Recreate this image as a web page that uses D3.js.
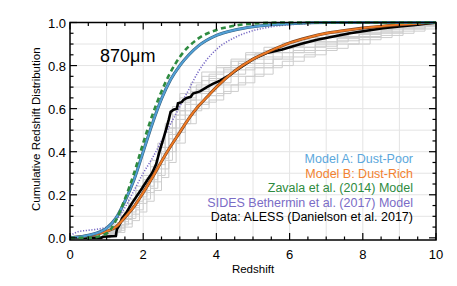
<!DOCTYPE html>
<html>
<head>
<meta charset="utf-8">
<script src="https://cdn.jsdelivr.net/npm/d3@7"></script>
<style>
  body { margin: 0; background: #fff; }
  svg { font-family: "Liberation Sans", Arial, sans-serif; }
</style>
</head>
<body>
<div id="chart"></div>
<script>
// model curves: redshift grid + cumulative fraction
const modelAZ = [0, 0.5, 1.0, 1.25, 1.5, 1.75, 2.0, 2.25, 2.5, 2.75, 3.0, 3.25, 3.5, 4.0, 4.5, 5.0, 6.0, 7.0, 10]
const modelAC = [0, 0.012, 0.045, 0.09, 0.17, 0.27, 0.4, 0.53, 0.645, 0.735, 0.8, 0.85, 0.89, 0.94, 0.965, 0.98, 0.994, 1.0, 1.0]

const modelBZ = [0, 0.5, 1.0, 1.25, 1.5, 1.75, 2.0, 2.25, 2.5, 2.75, 3.0, 3.25, 3.5, 3.75, 4.0, 4.5, 5.0, 5.5, 6.0, 6.5, 7.0, 7.5, 8.0, 9.0, 10]
const modelBC = [0, 0.01, 0.03, 0.05, 0.095, 0.145, 0.21, 0.28, 0.355, 0.425, 0.49, 0.555, 0.61, 0.655, 0.7, 0.775, 0.83, 0.87, 0.905, 0.93, 0.95, 0.963, 0.974, 0.99, 1.0]

const zavalaZ = [0, 0.5, 1.0, 1.25, 1.5, 1.75, 2.0, 2.25, 2.5, 2.75, 3.0, 3.5, 4.0, 4.5, 5.0, 6.0, 10]
const zavalaC = [0, 0.0, 0.02, 0.08, 0.18, 0.3, 0.44, 0.57, 0.68, 0.77, 0.84, 0.925, 0.965, 0.985, 0.995, 1.0, 1.0]

const sidesZ = [0, 0.25, 0.5, 1.0, 1.25, 1.5, 1.75, 2.0, 2.25, 2.5, 2.75, 3.0, 3.25, 3.5, 3.75, 4.0, 4.5, 5.0, 5.5, 6.0, 7.0, 8.0, 10]
const sidesC = [0.01, 0.03, 0.035, 0.05, 0.08, 0.14, 0.22, 0.3, 0.37, 0.45, 0.53, 0.61, 0.69, 0.77, 0.83, 0.875, 0.93, 0.962, 0.98, 0.99, 0.998, 1.0, 1.0]

// ALESS data
const alessZ = [0, 0.85, 0.9, 1.25, 1.28, 1.35, 1.42, 1.55, 1.69, 1.83, 1.97, 2.1, 2.24, 2.35, 2.46, 2.55, 2.62, 2.7, 2.75, 2.83, 2.92, 2.95, 3.05, 3.1, 3.19, 3.3, 3.36, 3.55, 3.74, 3.9, 4.1, 4.37, 4.6, 5.0, 5.4, 5.8, 6.3, 6.75, 7.2, 7.65, 8.1, 8.55, 9.0, 9.5, 10]
const alessC = [0, 0, 0.005, 0.008, 0.04, 0.06, 0.09, 0.12, 0.16, 0.195, 0.23, 0.265, 0.3, 0.34, 0.41, 0.46, 0.5, 0.55, 0.585, 0.595, 0.6, 0.625, 0.63, 0.64, 0.65, 0.655, 0.67, 0.68, 0.7, 0.715, 0.73, 0.757, 0.785, 0.83, 0.86, 0.875, 0.9, 0.92, 0.935, 0.95, 0.962, 0.973, 0.982, 0.99, 1.0]

// grey realisations, two redshift grids
const greyZA = [0, 0.5, 1.0, 1.2, 1.4, 1.6, 1.8, 2.0, 2.2, 2.4, 2.6, 2.8, 3.0, 3.3, 3.6, 4.0, 4.4, 4.8, 5.3, 5.8, 6.4, 7.0, 7.6, 8.2, 8.8, 9.4, 10]
const greyZB = [0, 0.6, 1.1, 1.3, 1.5, 1.7, 1.9, 2.1, 2.3, 2.5, 2.7, 2.9, 3.15, 3.45, 3.8, 4.2, 4.6, 5.05, 5.55, 6.1, 6.7, 7.3, 7.9, 8.5, 9.1, 9.7, 10]
const greyA1 = [0, 0.005, 0.03, 0.07, 0.12, 0.18, 0.24, 0.29, 0.36, 0.44, 0.53, 0.61, 0.67, 0.72, 0.77, 0.8, 0.83, 0.86, 0.885, 0.905, 0.93, 0.95, 0.965, 0.975, 0.985, 0.995, 1]
const greyA2 = [0, 0, 0.01, 0.03, 0.06, 0.09, 0.13, 0.18, 0.23, 0.29, 0.36, 0.45, 0.53, 0.59, 0.63, 0.67, 0.71, 0.75, 0.79, 0.82, 0.85, 0.88, 0.9, 0.93, 0.95, 0.97, 1]
const greyA3 = [0, 0.003, 0.02, 0.05, 0.09, 0.15, 0.2, 0.25, 0.31, 0.4, 0.49, 0.57, 0.63, 0.68, 0.73, 0.77, 0.8, 0.83, 0.86, 0.89, 0.91, 0.93, 0.95, 0.965, 0.98, 0.99, 1]
const greyA4 = [0, 0, 0.015, 0.04, 0.075, 0.12, 0.17, 0.22, 0.27, 0.34, 0.42, 0.51, 0.59, 0.64, 0.68, 0.72, 0.76, 0.79, 0.83, 0.86, 0.885, 0.91, 0.93, 0.95, 0.97, 0.985, 1]
const greyA5 = [0, 0.002, 0.025, 0.06, 0.1, 0.16, 0.22, 0.27, 0.33, 0.42, 0.51, 0.6, 0.65, 0.7, 0.75, 0.79, 0.82, 0.85, 0.87, 0.895, 0.92, 0.94, 0.955, 0.97, 0.98, 0.99, 1]
const greyB1 = [0, 0.004, 0.025, 0.06, 0.1, 0.16, 0.22, 0.28, 0.34, 0.42, 0.51, 0.59, 0.65, 0.71, 0.76, 0.79, 0.82, 0.855, 0.88, 0.91, 0.93, 0.95, 0.97, 0.98, 0.99, 0.997, 1]
const greyB2 = [0, 0, 0.008, 0.025, 0.05, 0.08, 0.12, 0.17, 0.22, 0.28, 0.35, 0.44, 0.53, 0.6, 0.64, 0.68, 0.72, 0.76, 0.8, 0.84, 0.87, 0.9, 0.92, 0.94, 0.96, 0.98, 1]
const greyB3 = [0, 0.002, 0.018, 0.045, 0.085, 0.14, 0.19, 0.24, 0.3, 0.37, 0.46, 0.55, 0.62, 0.67, 0.71, 0.75, 0.78, 0.81, 0.84, 0.87, 0.9, 0.925, 0.945, 0.96, 0.975, 0.99, 1]
const greyB4 = [0, 0.001, 0.012, 0.035, 0.065, 0.11, 0.16, 0.21, 0.26, 0.32, 0.4, 0.49, 0.57, 0.62, 0.66, 0.71, 0.75, 0.79, 0.83, 0.86, 0.89, 0.915, 0.935, 0.955, 0.97, 0.985, 1]
const greyB5 = [0, 0.003, 0.02, 0.05, 0.09, 0.15, 0.21, 0.26, 0.32, 0.39, 0.48, 0.57, 0.64, 0.69, 0.74, 0.78, 0.81, 0.84, 0.86, 0.885, 0.91, 0.935, 0.955, 0.97, 0.98, 0.992, 1]

const xTicks = [0, 2, 4, 6, 8, 10]
const yTicks = [0, 0.2, 0.4, 0.6, 0.8, 1.0]

const legendItems = [
  { label: "Model A: Dust-Poor", color: "#5ba7dc" },
  { label: "Model B: Dust-Rich", color: "#f28231" },
  { label: "Zavala et al. (2014) Model", color: "#2e8b40" },
  { label: "SIDES Bethermin et al. (2017) Model", color: "#7a6cc6" },
  { label: "Data: ALESS (Danielson et al. 2017)", color: "#000" }
]

const MARGIN = { LEFT: 70, RIGHT: 21, TOP: 22.5, BOTTOM: 46 }
const W = 457 - MARGIN.LEFT - MARGIN.RIGHT
const H = 286 - MARGIN.TOP - MARGIN.BOTTOM

const svg = d3.select("#chart").append("svg")
  .attr("width", 457)
  .attr("height", 286)

const g = svg.append("g")
  .attr("transform", `translate(${MARGIN.LEFT}, ${MARGIN.TOP})`)

const x = d3.scaleLinear().domain([0, 10]).range([0, W])
const y = d3.scaleLinear().domain([-0.01, 1]).range([H, 0])

// grid
g.append("g").selectAll("line")
  .data(d3.range(1, 10))
  .enter().append("line")
    .attr("x1", d => x(d)).attr("x2", d => x(d))
    .attr("y1", 0).attr("y2", H)
    .attr("stroke", "#e4e4e4").attr("stroke-width", 1)

g.append("g").selectAll("line")
  .data(d3.range(1, 10).map(d => d / 10))
  .enter().append("line")
    .attr("x1", 0).attr("x2", W)
    .attr("y1", d => y(d)).attr("y2", d => y(d))
    .attr("stroke", "#e4e4e4").attr("stroke-width", 1)

const toPts = (zs, cs) => zs.map((z, i) => [z, cs[i]])

const stepLine = d3.line()
  .x(d => x(d[0]))
  .y(d => y(d[1]))
  .curve(d3.curveStepAfter)

const plainLine = d3.line()
  .x(d => x(d[0]))
  .y(d => y(d[1]))

const smoothLine = d3.line()
  .x(d => x(d[0]))
  .y(d => y(d[1]))
  .curve(d3.curveMonotoneX)

// grey realisations
const greys = [
  toPts(greyZA, greyA1), toPts(greyZA, greyA2), toPts(greyZA, greyA3), toPts(greyZA, greyA4), toPts(greyZA, greyA5),
  toPts(greyZB, greyB1), toPts(greyZB, greyB2), toPts(greyZB, greyB3), toPts(greyZB, greyB4), toPts(greyZB, greyB5)
]
greys.forEach(pts => {
  g.append("path")
    .attr("d", stepLine(pts))
    .attr("fill", "none")
    .attr("stroke", "#cdcdcd")
    .attr("stroke-width", 1)
})

// purple dotted
g.append("path")
  .attr("d", smoothLine(toPts(sidesZ, sidesC)))
  .attr("fill", "none")
  .attr("stroke", "#7a6cc6")
  .attr("stroke-width", 1.6)
  .attr("stroke-dasharray", "1.2,1.6")

// data
g.append("path")
  .attr("d", plainLine(toPts(alessZ, alessC)))
  .attr("fill", "none")
  .attr("stroke", "#000")
  .attr("stroke-width", 2.6)

// model B (outlined)
g.append("path")
  .attr("d", smoothLine(toPts(modelBZ, modelBC)))
  .attr("fill", "none")
  .attr("stroke", "#7a4420")
  .attr("stroke-width", 3)
g.append("path")
  .attr("d", smoothLine(toPts(modelBZ, modelBC)))
  .attr("fill", "none")
  .attr("stroke", "#f07a24")
  .attr("stroke-width", 1.9)

// model A (outlined)
g.append("path")
  .attr("d", smoothLine(toPts(modelAZ, modelAC)))
  .attr("fill", "none")
  .attr("stroke", "#35607e")
  .attr("stroke-width", 3)
g.append("path")
  .attr("d", smoothLine(toPts(modelAZ, modelAC)))
  .attr("fill", "none")
  .attr("stroke", "#52a0d6")
  .attr("stroke-width", 1.9)

// zavala dashed
g.append("path")
  .attr("d", smoothLine(toPts(zavalaZ, zavalaC)))
  .attr("fill", "none")
  .attr("stroke", "#2e8b40")
  .attr("stroke-width", 2.6)
  .attr("stroke-dasharray", "5,3.5")

// frame + inward ticks on all sides
g.append("rect")
  .attr("width", W).attr("height", H)
  .attr("fill", "none").attr("stroke", "#000").attr("stroke-width", 1.5)

const xMinor = d3.range(0, 10.01, 0.5)
const yMinor = d3.range(0, 1.001, 0.05)
const tickG = g.append("g").attr("stroke", "#000").attr("stroke-width", 1.2)
xMinor.forEach(v => {
  const len = Math.abs(v % 2) < 1e-6 ? 7 : 3.5
  tickG.append("line").attr("x1", x(v)).attr("x2", x(v)).attr("y1", H).attr("y2", H - len)
  tickG.append("line").attr("x1", x(v)).attr("x2", x(v)).attr("y1", 0).attr("y2", len)
})
yMinor.forEach(v => {
  const major = Math.abs(Math.round(v * 100) % 20) < 1e-6
  const len = major ? 7 : 3.5
  tickG.append("line").attr("x1", 0).attr("x2", len).attr("y1", y(v)).attr("y2", y(v))
  tickG.append("line").attr("x1", W).attr("x2", W - len).attr("y1", y(v)).attr("y2", y(v))
})

// tick labels
g.append("g").selectAll("text")
  .data(xTicks)
  .enter().append("text")
    .attr("x", d => x(d))
    .attr("y", H + 19)
    .attr("text-anchor", "middle")
    .attr("font-size", "13px")
    .text(d => d)

g.append("g").selectAll("text")
  .data(yTicks)
  .enter().append("text")
    .attr("x", -4)
    .attr("y", d => y(d) + 5)
    .attr("text-anchor", "end")
    .attr("font-size", "13px")
    .text(d => d3.format(".1f")(d))

// axis labels
g.append("text")
  .attr("x", W / 2)
  .attr("y", H + 33)
  .attr("text-anchor", "middle")
  .attr("font-size", "11.5px")
  .text("Redshift")

g.append("text")
  .attr("transform", "rotate(-90)")
  .attr("x", -H / 2 + 2)
  .attr("y", -30)
  .attr("text-anchor", "middle")
  .attr("font-size", "11.5px")
  .text("Cumulative Redshift Distribution")

// panel label
g.append("text")
  .attr("x", 30)
  .attr("y", 39)
  .attr("font-size", "18px")
  .text("870μm")

// legend
g.append("g").selectAll("text")
  .data(legendItems)
  .enter().append("text")
    .attr("x", W - 23)
    .attr("y", (d, i) => 140.5 + i * 14.5)
    .attr("text-anchor", "end")
    .attr("font-size", "12.5px")
    .attr("fill", d => d.color)
    .text(d => d.label)
</script>
</body>
</html>
